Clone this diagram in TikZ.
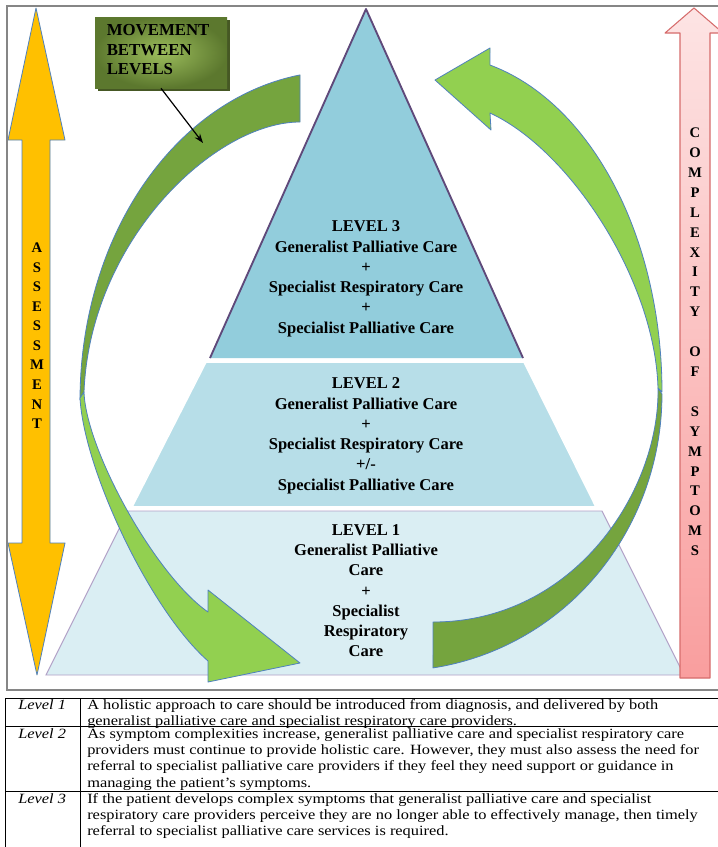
\documentclass[tikz,border=0pt]{standalone}
\usepackage{fontspec}
\setmainfont{Liberation Serif}
\newfontfamily\tablefont{Liberation Serif}[FakeStretch=1.16]
\usetikzlibrary{arrows.meta}

\definecolor{lvlthree}{RGB}{146,205,220}
\definecolor{lvltwo}{RGB}{183,222,232}
\definecolor{lvlone}{RGB}{218,238,243}
\definecolor{apexedge}{RGB}{95,73,122}
\definecolor{baseedge}{RGB}{178,161,199}
\definecolor{greendark}{RGB}{117,164,62}
\definecolor{greenlight}{RGB}{146,208,80}
\definecolor{arrowedge}{RGB}{79,129,189}
\definecolor{assessfill}{RGB}{255,192,0}
\definecolor{pinktop}{RGB}{253,228,228}
\definecolor{pinkbottom}{RGB}{249,158,158}
\definecolor{pinkedge}{RGB}{214,108,108}
\definecolor{moveinner}{RGB}{156,189,92}
\definecolor{moveouter}{RGB}{92,120,46}
\definecolor{moveshade}{RGB}{70,88,36}
\definecolor{framegray}{RGB}{134,134,134}

\begin{document}
\begin{tikzpicture}[x=0.75pt, y=-0.75pt,
  lvltext/.style={anchor=north, align=center, inner sep=0pt,
    font=\fontsize{12.4}{15.19}\selectfont\bfseries},
  sidetext/.style={anchor=north, align=center, inner sep=0pt, font=\bfseries},
  celltext/.style={anchor=north west, align=left, inner sep=0pt, text depth=0pt,
    font=\tablefont\fontsize{10.6}{12.2}\selectfont},
  edgeblue/.style={draw=arrowedge, line width=0.6pt, line join=round},
  backband/.style={edgeblue, fill=greendark},
  frontband/.style={edgeblue, fill=greenlight},
  assessarrow/.style={edgeblue, fill=assessfill},
  complexarrow/.style={draw=pinkedge, line width=0.8pt, line join=round,
    top color=pinktop, bottom color=pinkbottom},
  movebox/.style={rectangle, inner sep=0pt, minimum width=99pt, minimum height=53.25pt,
    inner color=moveinner, outer color=moveouter},
  callout/.style={line width=0.9pt, -{Stealth[length=7pt,width=5pt]}},
  tablerule/.style={line width=0.6pt, black},
  frame/.style={draw=framegray, line width=1.2pt}
]
\useasboundingbox (0,0) rectangle (718,847);
\fill[white] (0,0) rectangle (718,847);

% pyramid: level 1 (base), level 2, level 3 (apex)
\filldraw[fill=lvlone, draw=baseedge, line width=0.7pt]
  (128,511) -- (602,511) -- (684,675) -- (46,675) -- cycle;
\filldraw[fill=lvltwo, draw=white, line width=1.2pt]
  (206,362) -- (524,362) -- (596,507) -- (132,507) -- cycle;
\fill[lvlthree] (210,358) -- (366,9) -- (523,358) -- cycle;
\draw[apexedge, line width=1.4pt, line join=round] (210,358) -- (366,9) -- (523,358);

\node[lvltext] (levelthree) at (366,217.5)
  {\strut LEVEL 3\\Generalist Palliative Care\\+\\Specialist Respiratory Care\\+\\Specialist Palliative Care};
\node[lvltext] (leveltwo) at (366,374.5)
  {\strut LEVEL 2\\Generalist Palliative Care\\+\\Specialist Respiratory Care\\+/-\\Specialist Palliative Care};
\node[lvltext] (levelone) at (366,520.8)
  {\strut LEVEL 1\\Generalist Palliative\\Care\\+\\Specialist\\Respiratory\\Care};

% left curved arrow: far side of the ribbon, then the near side with its head
\path[backband]
  plot[domain=261.15:180, samples=70] ({340+260*cos(\x)},{400+329*sin(\x)})
  -- (84,392) .. controls (90,240) and (215,122) .. (300,122) -- cycle;
\path[frontband]
  (80,398) .. controls (84,470) and (150,610) .. (208,661)
  -- (208,682) -- (300,663) -- (208,590) -- (208,612)
  .. controls (155,575) and (86,450) .. (84,392) -- cycle;

% right curved arrow
\path[backband]
  plot[domain=0:81.45, samples=70] ({393+269*cos(\x)},{394+277*sin(\x)})
  -- (433,622) .. controls (575,622) and (660,490) .. (658,388) -- cycle;
\path[frontband]
  plot[domain=-75.98:0, samples=70] ({435+227*cos(\x)},{392+337*sin(\x)})
  -- (658,388) .. controls (655,280) and (570,150) .. (490,113)
  -- (491,130) -- (435,80) -- (490,48) -- cycle;

% assessment double arrow
\path[assessarrow] (36,8) -- (65,140) -- (50,140) -- (50,543) -- (65,543) -- (37,675)
  -- (8,543) -- (22,543) -- (22,140) -- (8,140) -- cycle;
\node[sidetext, font=\fontsize{11}{14.67}\selectfont\bfseries] (assess) at (37,238.6)
  {\strut A\\S\\S\\E\\S\\S\\M\\E\\N\\T};

% complexity arrow
\path[complexarrow] (694,8) -- (723,33) -- (710,33) -- (710,678) -- (680,678)
  -- (680,33) -- (665,33) -- cycle;
\node[sidetext, font=\fontsize{11}{14.93}\selectfont\bfseries] (complexity) at (695,123.4)
  {\strut C\\O\\M\\P\\L\\E\\X\\I\\T\\Y\\~\\O\\F\\~\\S\\Y\\M\\P\\T\\O\\M\\S};

% callout box
\fill[moveshade] (97.5,19.5) rectangle (229.5,90.5);
\node[movebox] (move) at (161,52.5) {};
\node[anchor=north west, align=left, inner sep=0pt,
  font=\fontsize{12.6}{14.63}\selectfont\bfseries] (movelabel) at (106.5,22.05)
  {\strut MOVEMENT\\BETWEEN\\LEVELS};
\coordinate (movetip) at (203,143);
\draw[callout] (move.south) -- (movetip);

% outer frame
\draw[frame] (7,6) rectangle (740,690);

% description table
\draw[tablerule] (5,698) -- (740,698);
\draw[tablerule] (5,726) -- (740,726);
\draw[tablerule] (5,791) -- (740,791);
\draw[tablerule] (5,698) -- (5,860);
\draw[tablerule] (80,698) -- (80,860);

\node[celltext] (lvlonename) at (18,697.4) {\strut\textit{Level 1}};
\node[celltext] (lvlonetext) at (87,697.4)
  {\strut A holistic approach to care should be introduced from diagnosis, and delivered by both\\
   generalist palliative care and specialist respiratory care providers.};
\node[celltext] (lvltwoname) at (18,726.6) {\strut\textit{Level 2}};
\node[celltext] (lvltwotext) at (87,726.6)
  {\strut As symptom complexities increase, generalist palliative care and specialist respiratory care\\
   providers must continue to provide holistic care. However, they must also assess the need for\\
   referral to specialist palliative care providers if they feel they need support or guidance in\\
   managing the patient’s symptoms.};
\node[celltext] (lvlthreename) at (18,791.6) {\strut\textit{Level 3}};
\node[celltext] (lvlthreetext) at (87,791.6)
  {\strut If the patient develops complex symptoms that generalist palliative care and specialist\\
   respiratory care providers perceive they are no longer able to effectively manage, then timely\\
   referral to specialist palliative care services is required.};
\end{tikzpicture}
\end{document}
